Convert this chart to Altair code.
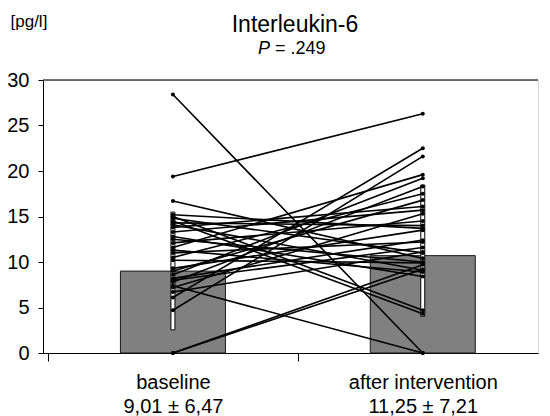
import altair as alt
import pandas as pd

# ---------------- data ----------------
title_text = "Interleukin-6"
p_parts = ["P", "= .249"]
unit_label = "[pg/l]"
categories = ["baseline", "after intervention"]
stat_labels = ["9,01 \u00b1 6,47", "11,25 \u00b1 7,21"]
bar_values = [9.0, 10.7]
means = [9.01, 11.25]
sds = [6.47, 7.21]

baseline_vals = [28.4, 19.4, 16.7, 6.1, 4.7, 11.6, 8.6, 7.8, 15.2, 15.0,
                 14.8, 14.5, 14.1, 13.3, 12.8, 12.1, 11.0, 10.2, 9.3, 9.0,
                 8.2, 7.4, 6.7, 0.0, 0.0, 13.8, 11.3, 10.5, 7.2, 12.5,
                 14.3, 8.0]
after_vals = [0.0, 26.3, 10.4, 22.5, 21.6, 19.6, 19.2, 18.3, 13.7, 4.7,
              11.0, 4.3, 9.1, 15.7, 8.4, 14.5, 12.2, 9.9, 13.5, 16.8,
              12.4, 0.0, 11.1, 9.2, 9.7, 16.1, 8.9, 17.5, 15.3, 10.0,
              14.0, 11.6]

FONT = "Liberation Sans"
W, H = 495, 273
BAND = 255.0
XMAX = W / BAND

# ---------------- tables ----------------
bars_df = pd.DataFrame({
    "pos": [i + 0.5 for i in range(len(categories))],
    "value": bar_values,
    "lo": [m - s for m, s in zip(means, sds)],
    "hi": [m + s for m, s in zip(means, sds)],
})
rows = []
for i, (b, a) in enumerate(zip(baseline_vals, after_vals)):
    rows.append({"subject": i, "pos": 0.5, "value": b})
    rows.append({"subject": i, "pos": 1.5, "value": a})
lines_df = pd.DataFrame(rows)

label_expr = (
    f"datum.value == 0.5 ? ['{categories[0]}', '{stat_labels[0]}'] : "
    f"datum.value == 1.5 ? ['{categories[1]}', '{stat_labels[1]}'] : ''"
)

x_scale = alt.Scale(domain=[0, XMAX], nice=False, zero=False)
y_scale = alt.Scale(domain=[0, 30], nice=False)

x_axis = alt.Axis(
    values=[0, 0.5, 1, 1.5], title=None, grid=False,
    domainColor="black", tickColor="black", tickSize=8,
    tickOpacity={"condition": {"test": "datum.value == 0.5 || datum.value == 1.5", "value": 0}, "value": 1},
    labelExpr=label_expr, labelFont=FONT, labelFontSize=20, labelLineHeight=24,
    labelPadding=11, labelColor="black", labelFlush=False, labelOverlap=False,
)
y_axis = alt.Axis(
    values=[0, 5, 10, 15, 20, 25, 30], title=unit_label, grid=False,
    domainColor="black", tickColor="black", tickSize=5, labelPadding=9,
    labelFont=FONT, labelFontSize=20, labelColor="black",
    titleAngle=0, titleAlign="left", titleBaseline="alphabetic",
    titleX=-33, titleY=-54, titleFont=FONT, titleFontSize=17,
    titleFontWeight="normal", titleColor="black",
)

bars = alt.Chart(bars_df).mark_bar(
    size=105, color="#808080", stroke="#1a1a1a", strokeWidth=1
).encode(
    x=alt.X("pos:Q", scale=x_scale, axis=x_axis),
    y=alt.Y("value:Q", scale=y_scale, axis=y_axis),
)

errs = alt.Chart(bars_df).mark_bar(
    size=4, fill="white", stroke="black", strokeWidth=1
).encode(
    x=alt.X("pos:Q", scale=x_scale),
    y=alt.Y("lo:Q", scale=y_scale),
    y2="hi:Q",
)

lines = alt.Chart(lines_df).mark_line(color="black", strokeWidth=1.6).encode(
    x=alt.X("pos:Q", scale=x_scale),
    y=alt.Y("value:Q", scale=y_scale),
    detail="subject:N",
)

points = alt.Chart(lines_df).mark_circle(size=16, color="black", opacity=1).encode(
    x=alt.X("pos:Q", scale=x_scale),
    y=alt.Y("value:Q", scale=y_scale),
)

top_rule = alt.Chart(pd.DataFrame({"y": [30]})).mark_rule(
    color="#444", strokeWidth=1.5
).encode(y=alt.Y("y:Q", scale=y_scale))

title_mark = alt.Chart(pd.DataFrame({"t": [title_text]})).mark_text(
    align="center", baseline="alphabetic", font=FONT, fontSize=23, color="black"
).encode(text="t:N", x=alt.value(252), y=alt.value(-48))

p_text = alt.Chart(pd.DataFrame({"t": [p_parts[0]]})).mark_text(
    align="right", baseline="alphabetic", font=FONT, fontSize=18,
    fontStyle="italic", color="black"
).encode(text="t:N", x=alt.value(227), y=alt.value(-26))

p_val = alt.Chart(pd.DataFrame({"t": [p_parts[1]]})).mark_text(
    align="left", baseline="alphabetic", font=FONT, fontSize=18, color="black"
).encode(text="t:N", x=alt.value(232), y=alt.value(-26))

chart = alt.layer(
    bars, errs, lines, points, top_rule, title_mark, p_text, p_val
).properties(
    width=W, height=H,
    autosize=alt.AutoSizeParams(type="none"),
    padding={"left": 35, "top": 72, "right": 4, "bottom": 63},
).configure_view(stroke="#d8d8d8", strokeWidth=1)

chart.save("out.html", embed_options={"renderer": "svg", "actions": False})
